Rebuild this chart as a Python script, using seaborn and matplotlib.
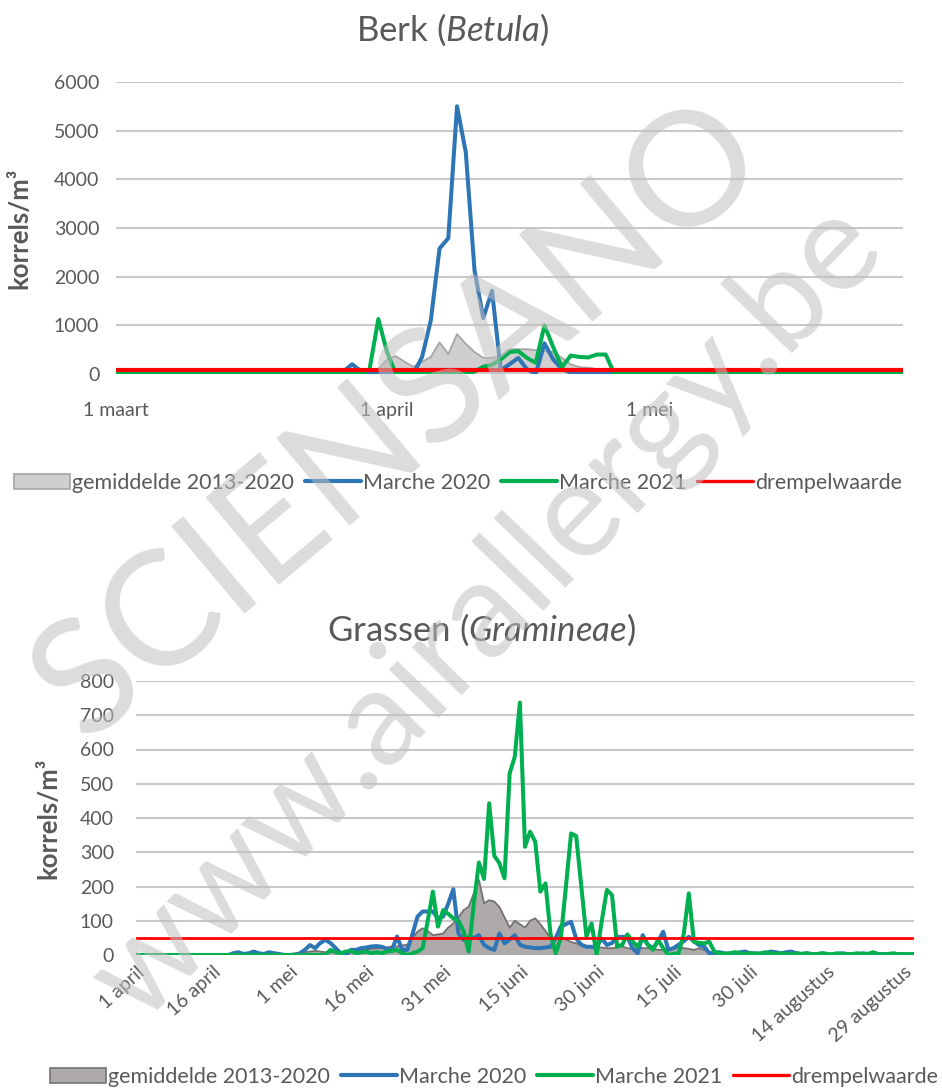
import pandas as pd
import seaborn as sns
import matplotlib.pyplot as plt
from matplotlib.patches import Patch
from matplotlib.lines import Line2D

# Berk (Betula), daily values in korrels/m³ starting 1 March
birch_start = "2021-03-01"
birch_mean = [
    0, 0, 0, 0, 0, 0, 0, 0, 0, 0,
    0, 0, 0, 0, 0, 0, 0, 0, 0, 0,
    0, 0, 0, 0, 0, 0, 0, 10, 20, 60,
    100, 300, 370, 250, 150, 250, 350, 650, 410, 820,
    620, 450, 330, 330, 370, 510, 510, 510, 490, 470,
    450, 330, 200, 140, 130, 100, 50, 30, 20, 10,
    10, 20, 40, 10, 0, 0, 0, 0, 0, 0,
    0, 0, 0, 0, 0, 0, 0, 0, 0, 0,
    0, 0, 0, 0, 0, 0, 0, 0, 0, 0,
    0,
]
birch_2020 = [
    0, 0, 0, 0, 0, 0, 0, 0, 0, 0,
    0, 0, 0, 0, 0, 0, 0, 0, 0, 0,
    0, 0, 0, 0, 0, 0, 50, 200, 60, 0,
    0, 0, 0, 0, 0, 350, 1100, 2580, 2790, 5500,
    4560, 2130, 1150, 1710, 80, 200, 330, 100, 0, 630,
    300, 100, 30, 0, 0, 0, 0, 0, 0, 0,
    0, 0, 0, 0, 0, 0, 0, 0, 0, 0,
    0, 0, 0, 0, 0, 0, 0, 0, 0, 0,
    0, 0, 0, 0, 0, 0, 0, 0, 0, 0,
    0,
]
birch_2021 = [
    0, 0, 0, 0, 0, 0, 0, 0, 0, 0,
    0, 0, 0, 0, 0, 0, 0, 0, 0, 0,
    0, 0, 0, 0, 0, 0, 0, 0, 0, 100,
    1130, 450, 0, 0, 0, 0, 0, 20, 0, 0,
    0, 50, 150, 190, 300, 450, 470, 330, 230, 1000,
    550, 140, 380, 350, 340, 400, 400, 0, 0, 0,
    0, 0, 0, 0, 0, 0, 0, 0, 0, 0,
    0, 0, 0, 0, 0, 0, 0, 0, 0, 0,
    0, 0, 0, 0, 0, 0, 0, 0, 0, 0,
    0,
]
birch_threshold = 80
birch_ticks = ["2021-03-01", "2021-04-01", "2021-05-01"]
birch_tick_labels = ["1 maart", "1 april", "1 mei"]
birch_yticks = [0, 1000, 2000, 3000, 4000, 5000, 6000]

# Grassen (Gramineae), daily values in korrels/m³ starting 1 April
grass_start = "2021-04-01"
grass_mean = [
    0, 0, 0, 0, 0, 0, 0, 0, 0, 0,
    0, 0, 0, 0, 0, 0, 0, 0, 0, 0,
    0, 0, 0, 0, 0, 0, 0, 0, 2, 3,
    3, 5, 5, 8, 10, 12, 10, 8, 8, 10,
    8, 10, 12, 10, 12, 15, 18, 20, 20, 22,
    25, 25, 28, 30, 50, 68, 78, 70, 58, 60,
    63, 80, 92, 110, 131, 141, 180, 219, 151, 160,
    156, 140, 110, 80, 100, 90, 80, 100, 107, 90,
    70, 50, 48, 53, 45, 38, 34, 28, 25, 25,
    22, 22, 20, 20, 22, 25, 20, 18, 22, 20,
    20, 18, 15, 15, 18, 20, 22, 20, 18, 15,
    20, 15, 10, 5, 3, 2, 2, 2, 3, 2,
    2, 2, 1, 2, 2, 1, 2, 1, 1, 2,
    1, 1, 2, 1, 1, 1, 1, 1, 1, 1,
    1, 1, 1, 0, 1, 1, 0, 1, 1, 0,
    0, 1, 0,
]
grass_2020 = [
    0, 0, 0, 0, 0, 0, 0, 0, 0, 0,
    0, 0, 0, 0, 0, 0, 0, 0, 0, 5,
    8, 3, 5, 10, 5, 3, 8, 5, 3, 0,
    0, 0, 5, 15, 29, 20, 35, 44, 35, 20,
    5, 0, 15, 15, 20, 22, 25, 26, 24, 18,
    15, 54, 15, 15, 60, 112, 127, 127, 127, 107,
    112, 150, 192, 63, 44, 53, 50, 58, 29, 20,
    15, 63, 34, 45, 58, 30, 24, 22, 20, 20,
    22, 24, 50, 83, 90, 97, 48, 30, 24, 24,
    24, 48, 29, 35, 53, 53, 53, 20, 5, 58,
    30, 20, 40, 68, 15, 20, 30, 40, 53, 40,
    29, 25, 5, 5, 8, 5, 3, 5, 8, 10,
    5, 5, 3, 5, 10, 8, 5, 8, 10, 5,
    3, 5, 3, 0, 5, 3, 0, 2, 5, 3,
    0, 2, 5, 3, 0, 2, 3, 0, 2, 3,
    0, 2, 0,
]
grass_2021 = [
    0, 0, 0, 0, 0, 0, 0, 0, 0, 0,
    0, 0, 0, 0, 0, 0, 0, 0, 0, 0,
    0, 0, 0, 0, 0, 0, 0, 0, 0, 0,
    0, 0, 0, 0, 0, 0, 0, 0, 15, 8,
    5, 10, 12, 5, 8, 10, 5, 8, 5, 10,
    12, 15, 5, 0, 5, 10, 20, 100, 185, 83,
    131, 120, 107, 100, 70, 10, 150, 270, 222, 443,
    290, 268, 224, 530, 579, 737, 316, 360, 331, 185,
    209, 60, 5, 50, 200, 355, 347, 200, 54, 92,
    0, 100, 190, 175, 24, 30, 60, 40, 24, 50,
    30, 15, 44, 20, 0, 3, 5, 60, 180, 39,
    35, 34, 39, 10, 5, 3, 5, 8, 5, 3,
    5, 3, 5, 8, 5, 3, 5, 3, 2, 5,
    3, 5, 2, 3, 5, 3, 2, 5, 3, 2,
    3, 5, 2, 3, 8, 3, 2, 3, 5, 2,
    3, 2, 3,
]
grass_threshold = 50
grass_ticks = ["2021-04-01", "2021-04-16", "2021-05-01", "2021-05-16", "2021-05-31",
               "2021-06-15", "2021-06-30", "2021-07-15", "2021-07-30", "2021-08-14",
               "2021-08-29"]
grass_tick_labels = ["1 april", "16 april", "1 mei", "16 mei", "31 mei", "15 juni",
                     "30 juni", "15 juli", "30 juli", "14 augustus", "29 augustus"]
grass_yticks = [0, 100, 200, 300, 400, 500, 600, 700, 800]

series_labels = ["gemiddelde 2013-2020", "Marche 2020", "Marche 2021", "drempelwaarde"]

BLUE = "#2e75b6"
GREEN = "#00b050"
RED = "#ff0000"
TEXT = "#595959"
W, H = 942, 1089


def make_frame(start, mean, y2020, y2021):
    """Put one pollen season into a dataframe indexed by date."""
    dates = pd.date_range(start, periods=len(mean), freq="D")
    return pd.DataFrame({"datum": dates, "gemiddelde": mean,
                         "m2020": y2020, "m2021": y2021})


def draw_panel(ax, df, threshold, fill, edge, ticks, tick_labels, yticks, red_lw):
    """Area for the mean, lines for both years and the threshold."""
    ax.fill_between(df["datum"], df["gemiddelde"], facecolor=fill,
                    edgecolor="none", zorder=2)
    ax.plot(df["datum"], df["gemiddelde"], color=edge, lw=1.3, zorder=2)
    sns.lineplot(data=df, x="datum", y="m2020", color=BLUE, lw=2.9, ax=ax, zorder=3)
    sns.lineplot(data=df, x="datum", y="m2021", color=GREEN, lw=2.9, ax=ax, zorder=3)
    ax.axhline(threshold, color=RED, lw=red_lw, zorder=4)

    ax.set_xlim(df["datum"].iloc[0], df["datum"].iloc[-1])
    ax.set_ylim(yticks[0], yticks[-1])
    ax.set_yticks(yticks)
    ax.set_xticks(pd.to_datetime(ticks))
    ax.set_xticklabels(tick_labels)
    ax.grid(axis="y", color="#c8c8c8", lw=1.5)
    ax.grid(axis="x", visible=False)
    ax.set_axisbelow(True)
    ax.set_xlabel("")
    ax.set_ylabel("korrels/m³", fontsize=18.5, fontweight="bold", color=TEXT)
    ax.tick_params(length=0, labelsize=14, labelcolor=TEXT)
    sns.despine(ax=ax, left=True, bottom=True)


def add_legend(fig, x, y, fill, edge):
    handles = [
        Patch(facecolor=fill, edgecolor=edge, lw=1.2),
        Line2D([], [], color=BLUE, lw=3),
        Line2D([], [], color=GREEN, lw=3),
        Line2D([], [], color=RED, lw=2.4),
    ]
    fig.legend(handles, series_labels, loc="center", bbox_to_anchor=(x, y),
               ncol=4, frameon=False, fontsize=15.5, handlelength=2.6,
               handleheight=0.75, handletextpad=0.1, columnspacing=0.5,
               labelcolor=TEXT)


def main():
    sns.set_theme(style="white")
    plt.rcParams["font.family"] = ["Lato", "DejaVu Sans"]
    plt.rcParams["mathtext.fontset"] = "custom"
    plt.rcParams["mathtext.rm"] = "Lato"
    plt.rcParams["mathtext.it"] = "Lato:italic"

    fig = plt.figure(figsize=(W / 100, H / 100), dpi=100)

    # Berk panel
    ax1 = fig.add_axes([116 / W, 1 - 374 / H, 787 / W, 292 / H])
    birch = make_frame(birch_start, birch_mean, birch_2020, birch_2021)
    draw_panel(ax1, birch, birch_threshold, "#d0cece", "#a6a6a6",
               birch_ticks, birch_tick_labels, birch_yticks, 3.0)
    ax1.tick_params(axis="x", pad=20)
    ax1.tick_params(axis="y", pad=12)
    ax1.yaxis.set_label_coords(-0.108, 0.5)
    fig.text(452 / W, 1 - 30 / H, r"Berk ($\mathit{Betula}$)", fontsize=25,
             color=TEXT, ha="center", va="center")
    add_legend(fig, 458 / W, 1 - 483 / H, "#d0cece", "#a6a6a6")

    # Grassen panel
    ax2 = fig.add_axes([136 / W, 1 - 955 / H, 778 / W, 274 / H])
    grass = make_frame(grass_start, grass_mean, grass_2020, grass_2021)
    draw_panel(ax2, grass, grass_threshold, "#aeaaaa", "#767171",
               grass_ticks, grass_tick_labels, grass_yticks, 2.0)
    ax2.tick_params(axis="x", pad=6)
    ax2.tick_params(axis="y", pad=16)
    for lab in ax2.get_xticklabels():
        lab.set_rotation(42)
        lab.set_ha("right")
        lab.set_rotation_mode("anchor")
    ax2.yaxis.set_label_coords(-0.097, 0.5)
    fig.text(482 / W, 1 - 630 / H, r"Grassen ($\mathit{Gramineae}$)", fontsize=25,
             color=TEXT, ha="center", va="center")
    add_legend(fig, 494 / W, 1 - 1077 / H, "#aeaaaa", "#767171")

    # watermark
    fig.text(400 / W, 1 - 420 / H, "SCIENSANO", fontsize=115, color="#bfbfbf",
             alpha=0.55, rotation=40, ha="center", va="center",
             rotation_mode="anchor", zorder=10)
    fig.text(488 / W, 1 - 612 / H, "www.airallergy.be", fontsize=98, color="#bfbfbf",
             alpha=0.55, rotation=46, ha="center", va="center",
             rotation_mode="anchor", zorder=10)

    fig.savefig("out.png", dpi=100)


if __name__ == "__main__":
    main()
